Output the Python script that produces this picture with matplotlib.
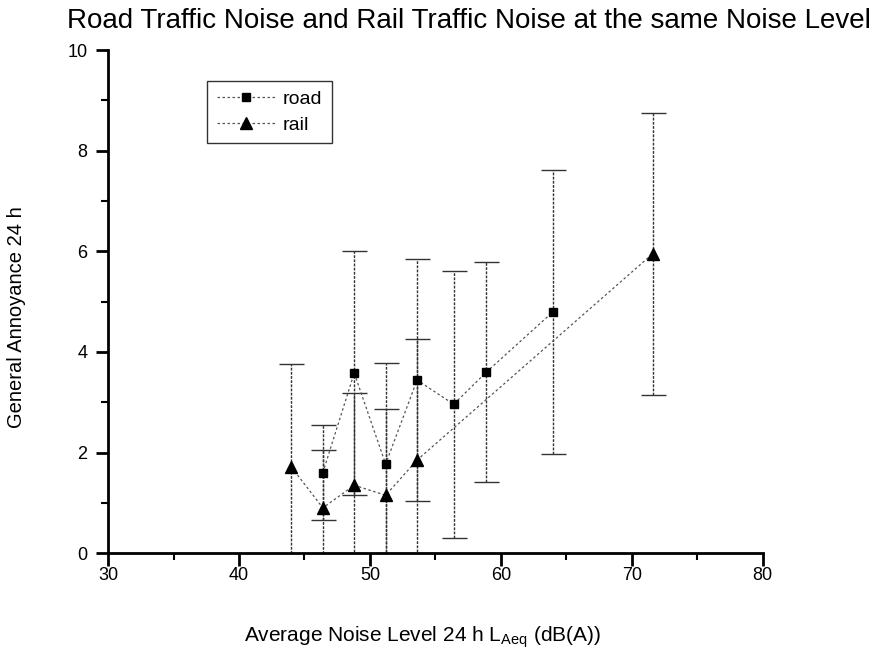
import matplotlib
matplotlib.use("Agg")
import matplotlib.pyplot as plt
from matplotlib.ticker import MultipleLocator
from matplotlib.lines import Line2D

plt.rcParams['font.family'] = ['Liberation Sans', 'DejaVu Sans']

# Data
road_x = [46.4, 48.8, 51.2, 53.6, 56.4, 58.9, 64.0]
road_y = [1.60, 3.58, 1.77, 3.44, 2.96, 3.60, 4.80]
road_err = [0.95, 2.42, 2.00, 2.40, 2.65, 2.18, 2.82]

rail_x = [44.0, 46.4, 48.8, 51.2, 53.6, 71.6]
rail_y = [1.71, 0.90, 1.35, 1.15, 1.85, 5.95]
rail_err = [2.05, 1.15, 1.83, 1.71, 2.40, 2.80]

series_labels = ['road', 'rail']
title = "Road Traffic Noise and Rail Traffic Noise at the same Noise Level"
xlabel = r"Average Noise Level 24 h L$_{\mathregular{Aeq}}$ (dB(A))"
ylabel = "General Annoyance 24 h"

fig = plt.figure(figsize=(8.94, 6.5), dpi=100)
ax = fig.add_axes([0.121, 0.149, 0.732, 0.774])

eb_kw = dict(ecolor='#333333', elinewidth=1.0, capsize=9, capthick=1.0)

e1 = ax.errorbar(road_x, road_y, yerr=road_err, fmt='s', color='black',
                 markersize=6, linestyle=(0, (2, 2)), linewidth=0.9, **eb_kw)
e2 = ax.errorbar(rail_x, rail_y, yerr=rail_err, fmt='^', color='black',
                 markersize=8, linestyle=(0, (2, 2)), linewidth=0.9, **eb_kw)
for e in (e1, e2):
    e[0].set_color('#555555')
    e[0].set_markerfacecolor('black')
    e[0].set_markeredgecolor('black')
    for lc in e[2]:
        lc.set_linestyle((0, (2, 1)))

ax.set_xlim(30, 80)
ax.set_ylim(0, 10)
ax.xaxis.set_major_locator(MultipleLocator(10))
ax.xaxis.set_minor_locator(MultipleLocator(5))
ax.yaxis.set_major_locator(MultipleLocator(2))
ax.yaxis.set_minor_locator(MultipleLocator(1))

for s in ('top', 'right'):
    ax.spines[s].set_visible(False)
for s in ('left', 'bottom'):
    ax.spines[s].set_linewidth(2.0)

ax.tick_params(which='major', direction='out', length=9, width=2, labelsize=13)
ax.tick_params(which='minor', direction='out', length=5, width=1.5)
ax.tick_params(axis='x', pad=1)
ax.tick_params(axis='y', pad=6)

ax.set_xlabel(xlabel, fontsize=15)
ax.set_ylabel(ylabel, fontsize=14.5)
ax.yaxis.set_label_coords(-0.125, 0.47)
ax.xaxis.set_label_coords(0.48, -0.142)

fig.text(0.075, 0.968, title, ha='left', va='center', fontsize=20)

handles = [
    Line2D([], [], color='#555555', linestyle=(0, (2, 2)), linewidth=0.9,
           marker='s', markersize=6, markerfacecolor='black', markeredgecolor='black'),
    Line2D([], [], color='#555555', linestyle=(0, (2, 2)), linewidth=0.9,
           marker='^', markersize=8, markerfacecolor='black', markeredgecolor='black'),
]
leg = ax.legend(handles, series_labels, loc='upper left',
                bbox_to_anchor=(0.136, 0.958), fontsize=14,
                frameon=True, fancybox=False, edgecolor='black',
                handlelength=3.0, borderpad=0.5, labelspacing=0.4,
                handletextpad=0.4)
leg.get_frame().set_linewidth(1.0)

fig.savefig('out.png', dpi=100, facecolor='white')
